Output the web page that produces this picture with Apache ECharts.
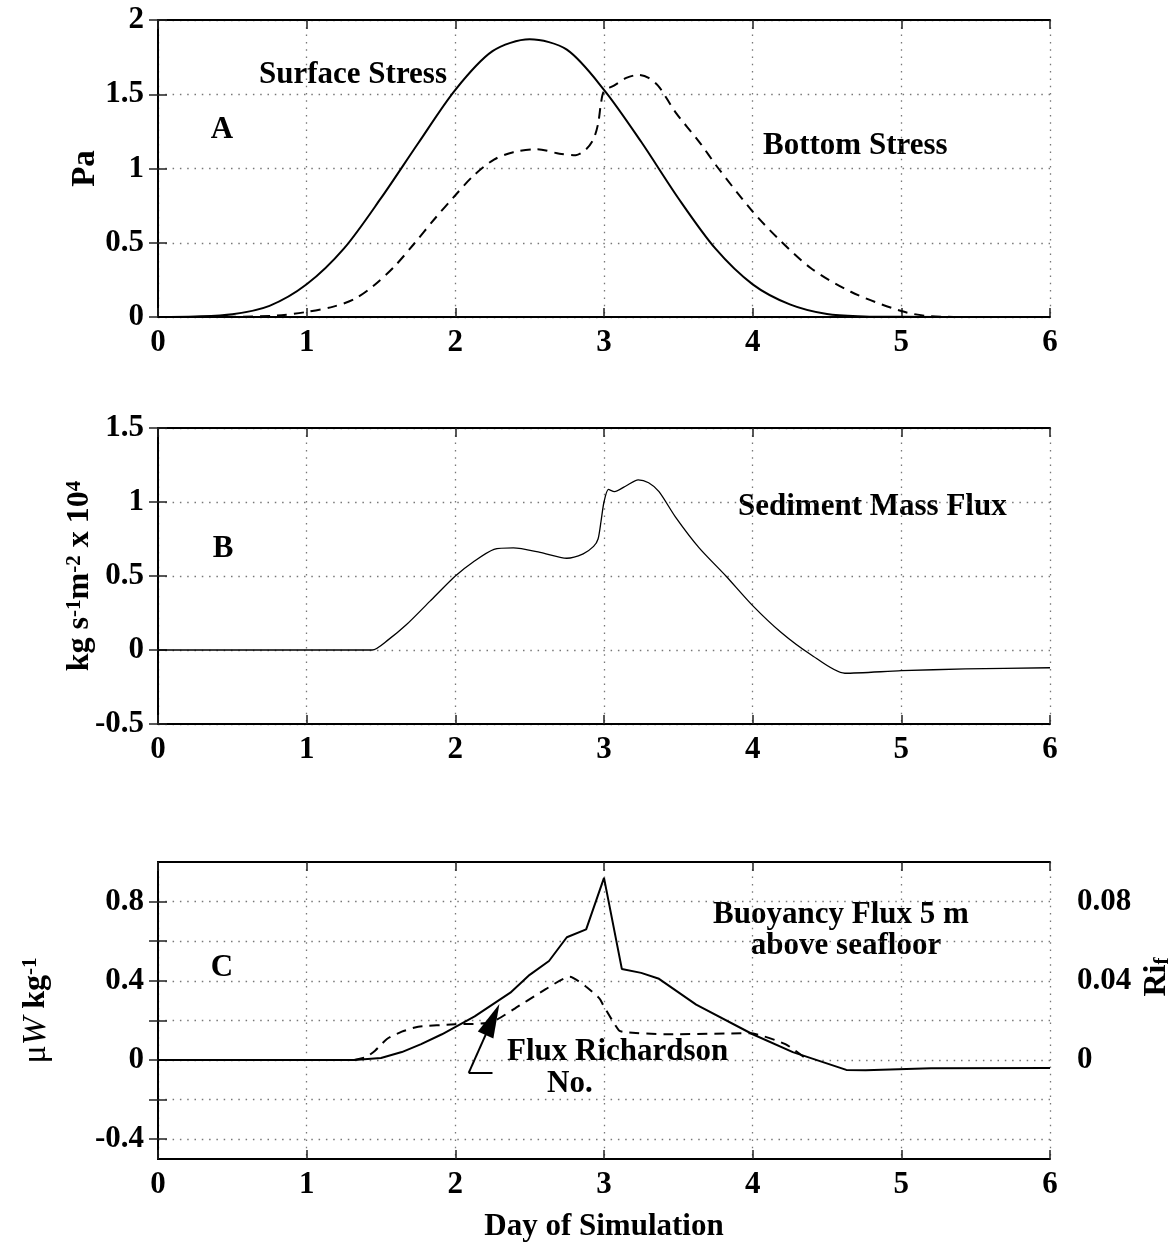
<!DOCTYPE html>
<html>
<head>
<meta charset="utf-8">
<script src="https://cdn.jsdelivr.net/npm/echarts@6/dist/echarts.min.js"></script>
<style>
html, body { margin: 0; padding: 0; background: #fff; }
#chart { width: 1175px; height: 1247px; }
</style>
</head>
<body>
<div id="chart"></div>
<script>
// panel A : surface / bottom stress (Pa)
const surfX = [0, 0.25, 0.5, 0.75, 1, 1.25, 1.5, 1.75, 2, 2.25, 2.5, 2.75, 3, 3.25, 3.5, 3.75, 4, 4.25, 4.5, 4.75, 5, 5.5, 6];
const surfY = [0, 0.003, 0.018, 0.075, 0.22, 0.46, 0.80, 1.17, 1.53, 1.79, 1.87, 1.80, 1.53, 1.18, 0.80, 0.46, 0.22, 0.085, 0.02, 0.004, 0.001, 0, 0];
const botX = [0, 0.5, 0.8, 1.0, 1.18, 1.32, 1.45, 1.59, 1.72, 1.86, 2.0, 2.12, 2.26, 2.39, 2.55, 2.70, 2.81, 2.88, 2.93, 2.96, 2.98, 3.0, 3.07, 3.15, 3.23, 3.3, 3.37, 3.48, 3.64, 3.77, 4.0, 4.17, 4.39, 4.66, 5.0, 5.2, 5.5, 6];
const botY = [0, 0.001, 0.01, 0.034, 0.07, 0.12, 0.21, 0.34, 0.49, 0.66, 0.82, 0.95, 1.06, 1.11, 1.13, 1.10, 1.09, 1.13, 1.20, 1.30, 1.44, 1.52, 1.56, 1.61, 1.63, 1.61, 1.55, 1.38, 1.18, 1.0, 0.71, 0.53, 0.33, 0.17, 0.04, 0.005, 0, 0];

// panel B : sediment mass flux
const sedX = [0, 1.44, 1.55, 1.67, 1.83, 2.0, 2.12, 2.26, 2.39, 2.57, 2.75, 2.86, 2.93, 2.96, 2.98, 3.0, 3.03, 3.07, 3.15, 3.23, 3.3, 3.37, 3.48, 3.64, 3.82, 4.0, 4.19, 4.39, 4.62, 5.0, 5.43, 6.0];
const sedY = [0, 0, 0.07, 0.17, 0.33, 0.50, 0.595, 0.68, 0.69, 0.66, 0.62, 0.65, 0.70, 0.75, 0.87, 1.0, 1.085, 1.07, 1.11, 1.15, 1.13, 1.07, 0.90, 0.69, 0.50, 0.30, 0.12, -0.03, -0.157, -0.14, -0.128, -0.12];

// panel C : buoyancy flux (left axis) and flux Richardson number (right axis)
const buoyX = [0, 1.32, 1.50, 1.64, 1.77, 1.91, 2.13, 2.37, 2.50, 2.63, 2.75, 2.88, 3.0, 3.12, 3.25, 3.37, 3.62, 4.0, 4.27, 4.63, 4.76, 5.2, 6.0];
const buoyY = [0, 0, 0.01, 0.04, 0.08, 0.13, 0.22, 0.34, 0.43, 0.50, 0.62, 0.66, 0.92, 0.46, 0.44, 0.41, 0.28, 0.13, 0.04, -0.05, -0.052, -0.042, -0.04];
const riX = [1.32, 1.40, 1.46, 1.54, 1.64, 1.75, 2.0, 2.24, 2.40, 2.57, 2.77, 2.88, 2.97, 3.0, 3.10, 3.15, 3.41, 3.98, 4.22, 4.37];
const riY = [0, 0.0015, 0.0047, 0.0106, 0.0143, 0.0168, 0.018, 0.019, 0.026, 0.034, 0.042, 0.037, 0.031, 0.027, 0.015, 0.014, 0.013, 0.0135, 0.008, 0];

const cLabels = [-0.4, 0, 0.4, 0.8];
const cTicks = [-0.4, -0.2, 0, 0.2, 0.4, 0.6, 0.8];
const riLabels = [0, 0.04, 0.08];
const riTicks = [-0.04, -0.02, 0, 0.02, 0.04, 0.06, 0.08];

const fam = '"Liberation Serif", "Times New Roman", serif';
const gridStyle = { color: '#777', width: 1.3, type: [1.5, 5.8] };

function zip(xs, ys) {
	return xs.map((x, i) => [x, ys[i]]);
}

function xAxes(gi, name) {
	let bottom = {
		type: 'value', gridIndex: gi, min: 0, max: 6, interval: 1,
		axisLine: { onZero: false, lineStyle: { color: '#000', width: 2 } },
		axisTick: { inside: true, length: 9, lineStyle: { color: '#222', width: 1.5 } },
		axisLabel: { color: '#000', fontFamily: fam, fontWeight: 'bold', fontSize: 31, margin: 10 },
		splitLine: { show: true, lineStyle: gridStyle }
	};
	if (name) {
		bottom.name = name;
		bottom.nameLocation = 'middle';
		bottom.nameGap = 52;
		bottom.nameMoveOverlap = false;
		bottom.nameTextStyle = { color: '#000', fontFamily: fam, fontWeight: 'bold', fontSize: 31 };
	}
	let top = {
		type: 'value', gridIndex: gi, position: 'top', min: 0, max: 6, interval: 1,
		axisLine: { onZero: false, lineStyle: { color: '#000', width: 2 } },
		axisTick: { inside: true, length: 9, lineStyle: { color: '#222', width: 1.5 } },
		axisLabel: { show: false },
		splitLine: { show: false }
	};
	return [bottom, top];
}

function yLeft(gi, min, max, interval, name, nameGap) {
	return {
		type: 'value', gridIndex: gi, min: min, max: max, interval: interval,
		name: name, nameLocation: 'middle', nameGap: nameGap, nameRotate: 90,
		nameMoveOverlap: false,
		nameTextStyle: {
			color: '#000', fontFamily: fam, fontWeight: 'bold', fontSize: 33,
			rich: {
				n: { fontFamily: fam, fontWeight: 'bold', fontSize: 32, lineHeight: 32 },
				sup: { fontFamily: fam, fontWeight: 'bold', fontSize: 21, lineHeight: 16, verticalAlign: 'top' },
				mu: { fontFamily: fam, fontWeight: 'normal', fontSize: 34, lineHeight: 32 },
				w: { fontFamily: fam, fontWeight: 'normal', fontStyle: 'italic', fontSize: 34, lineHeight: 32 }
			}
		},
		axisLine: { lineStyle: { color: '#000', width: 2 } },
		axisTick: { inside: true, length: 9, lineStyle: { color: '#222', width: 1.5 } },
		axisLabel: { color: '#000', fontFamily: fam, fontWeight: 'bold', fontSize: 31, margin: 14 },
		splitLine: { show: true, lineStyle: gridStyle }
	};
}

function yRight(gi, min, max, interval) {
	return {
		type: 'value', gridIndex: gi, position: 'right', min: min, max: max, interval: interval,
		axisLine: { lineStyle: { color: '#000', width: 2 } },
		axisTick: { inside: true, length: 9, lineStyle: { color: '#222', width: 1.5 } },
		axisLabel: { show: false },
		splitLine: { show: false }
	};
}

function near(list, v) {
	return list.some(t => Math.abs(t - v) < 1e-6);
}

let yC = yLeft(2, -0.5, 1.0, 0.1, '{mu|\u03bc}{w|W}{n| kg}{sup|-1}', 106);
yC.axisLabel.customValues = cLabels;
yC.axisLabel.formatter = function (v) { return near(cLabels, v) ? String(v) : ''; };
yC.axisTick.customValues = cTicks;

let yRi = yRight(2, -0.05, 0.1, 0.01);
yRi.axisLabel = {
	show: true, color: '#000', fontFamily: fam, fontWeight: 'bold', fontSize: 31, margin: 27,
	customValues: riLabels,
	formatter: function (v) { return near(riLabels, v) ? String(v) : ''; }
};
yRi.axisTick.customValues = riTicks;

const grids = [
	{ left: 158, right: 125, top: 20, height: 297 },
	{ left: 158, right: 125, top: 428, height: 296 },
	{ left: 158, right: 125, top: 862, height: 297 }
];

function txt(x, y, s, align) {
	return {
		type: 'text', x: x, y: y, silent: true,
		style: {
			text: s, fill: '#000', font: 'bold 31px ' + fam,
			align: align || 'left', verticalAlign: 'middle',
			textAlign: align || 'left', textVerticalAlign: 'middle'
		}
	};
}

const solid = { color: '#000', width: 2 };
const dashed = { color: '#000', width: 2, type: [10, 7] };

const option = {
	backgroundColor: '#fff',
	animation: false,
	grid: grids,
	xAxis: [].concat(xAxes(0), xAxes(1), xAxes(2, 'Day of Simulation')),
	yAxis: [
		yLeft(0, 0, 2, 0.5, 'Pa', 56),
		yRight(0, 0, 2, 0.5),
		yLeft(1, -0.5, 1.5, 0.5, '{n|kg s}{sup|-1}{n|m}{sup|-2}{n| x 10}{sup|4}', 62),
		yRight(1, -0.5, 1.5, 0.5),
		yC,
		yRi
	],
	graphic: [
		txt(222, 130, 'A', 'center'),
		txt(259, 75, 'Surface Stress'),
		txt(763, 146, 'Bottom Stress'),
		txt(223, 549, 'B', 'center'),
		txt(738, 507, 'Sediment Mass Flux'),
		txt(222, 968, 'C', 'center'),
		txt(841, 915, 'Buoyancy Flux 5 m', 'center'),
		txt(846, 946, 'above seafloor', 'center'),
		txt(507, 1052, 'Flux Richardson'),
		txt(547, 1084, 'No.'),
		{
			type: 'text', x: 1157, y: 977, rotation: Math.PI / 2, silent: true,
			style: {
				text: '{a|Ri}{b|f}', fill: '#000',
				align: 'center', verticalAlign: 'middle',
				rich: {
					a: { fontFamily: fam, fontWeight: 'bold', fontSize: 32, lineHeight: 32 },
					b: { fontFamily: fam, fontWeight: 'bold', fontSize: 21, lineHeight: 10, verticalAlign: 'bottom' }
				}
			}
		}
	],
	series: [
		{
			name: 'Surface Stress', type: 'line', xAxisIndex: 0, yAxisIndex: 0,
			data: zip(surfX, surfY), smooth: 0.3, symbol: 'none', lineStyle: solid
		},
		{
			name: 'Bottom Stress', type: 'line', xAxisIndex: 0, yAxisIndex: 0,
			data: zip(botX, botY), smooth: 0.3, symbol: 'none', lineStyle: dashed
		},
		{
			name: 'Sediment Mass Flux', type: 'line', xAxisIndex: 2, yAxisIndex: 2,
			data: zip(sedX, sedY), smooth: 0.25, symbol: 'none',
			lineStyle: { color: '#000', width: 1.3 }
		},
		{
			name: 'Buoyancy Flux', type: 'line', xAxisIndex: 4, yAxisIndex: 4,
			data: zip(buoyX, buoyY), symbol: 'none', lineStyle: solid,
			markLine: {
				silent: true, animation: false,
				label: { show: false },
				lineStyle: { color: '#000', width: 2, type: 'solid' },
				data: [
					[{ coord: [2.09, -0.065], symbol: 'none' }, { coord: [2.25, -0.065], symbol: 'none' }],
					[{ coord: [2.09, -0.065], symbol: 'none' }, { coord: [2.25, 0.205], symbol: 'triangle', symbolSize: [17, 34] }]
				]
			}
		},
		{
			name: 'Flux Richardson No.', type: 'line', xAxisIndex: 4, yAxisIndex: 5,
			data: zip(riX, riY), smooth: 0.2, symbol: 'none', lineStyle: dashed
		}
	]
};

const chart = echarts.init(document.getElementById('chart'));
chart.setOption(option);
</script>
</body>
</html>
